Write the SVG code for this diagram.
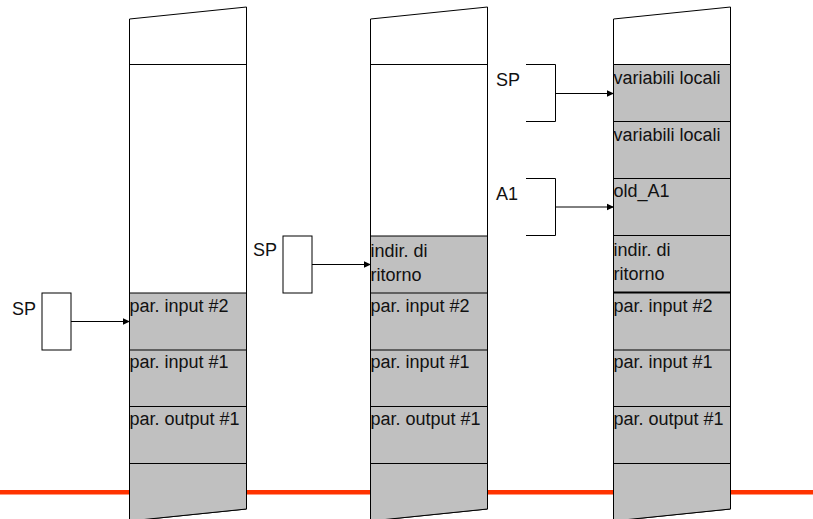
<svg xmlns="http://www.w3.org/2000/svg" width="813" height="519" viewBox="0 0 813 519">
<defs>
<marker id="ah" markerWidth="8" markerHeight="8" refX="7" refY="4" orient="auto" markerUnits="userSpaceOnUse">
<path d="M0,0.5 L7.5,4 L0,7.5 Z" fill="#000"/>
</marker>
</defs>
<style>
text{font-family:"Liberation Sans",Arial,sans-serif;font-size:18px;fill:#111}
.col{fill:#fff;stroke:#000;stroke-width:1}
.g{fill:#c0c0c0;stroke:#000;stroke-width:1}
.ln{stroke:#000;stroke-width:1;fill:none}
.box{fill:#fff;stroke:#000;stroke-width:1}
.cn{stroke:#000;stroke-width:1;fill:none;marker-end:url(#ah)}
</style>
<rect x="0" y="490" width="813" height="4.5" fill="#ff3300"/>

<g id="stack1">
<path class="col" d="M129.5,19 L246.5,7 L246.5,509 L129.5,521 Z"/>
<path class="g" d="M129.5,293 L246.5,293 L246.5,509 L129.5,521 Z"/>
<line class="ln" x1="129.5" y1="64.5" x2="246.5" y2="64.5"/>
<line class="ln" x1="129.5" y1="350" x2="246.5" y2="350"/>
<line class="ln" x1="129.5" y1="406.5" x2="246.5" y2="406.5"/>
<line class="ln" x1="129.5" y1="463.5" x2="246.5" y2="463.5"/>
<text x="129.5" y="312">par. input #2</text>
<text x="129.5" y="368">par. input #1</text>
<text x="129.5" y="425">par. output #1</text>
</g>

<g id="stack2">
<path class="col" d="M370.5,19 L487.5,7 L487.5,509 L370.5,521 Z"/>
<path class="g" d="M370.5,236 L487.5,236 L487.5,509 L370.5,521 Z"/>
<line class="ln" x1="370.5" y1="64.5" x2="487.5" y2="64.5"/>
<line class="ln" x1="370.5" y1="293" x2="487.5" y2="293"/>
<line class="ln" x1="370.5" y1="350" x2="487.5" y2="350"/>
<line class="ln" x1="370.5" y1="406.5" x2="487.5" y2="406.5"/>
<line class="ln" x1="370.5" y1="463.5" x2="487.5" y2="463.5"/>
<text x="370.5" y="257">indir. di</text>
<text x="370.5" y="281">ritorno</text>
<text x="370.5" y="312">par. input #2</text>
<text x="370.5" y="368">par. input #1</text>
<text x="370.5" y="425">par. output #1</text>
</g>

<g id="stack3">
<path class="col" d="M613.5,19 L730.5,7 L730.5,509 L613.5,521 Z"/>
<path class="g" d="M613.5,64.5 L730.5,64.5 L730.5,509 L613.5,521 Z"/>
<line class="ln" x1="613.5" y1="121.5" x2="730.5" y2="121.5"/>
<line class="ln" x1="613.5" y1="178.5" x2="730.5" y2="178.5"/>
<line class="ln" x1="613.5" y1="235.5" x2="730.5" y2="235.5"/>
<line x1="613.5" y1="292.5" x2="730.5" y2="292.5" stroke="#000" stroke-width="2"/>
<line class="ln" x1="613.5" y1="350" x2="730.5" y2="350"/>
<line class="ln" x1="613.5" y1="406.5" x2="730.5" y2="406.5"/>
<line class="ln" x1="613.5" y1="463.5" x2="730.5" y2="463.5"/>
<text x="613.5" y="84">variabili locali</text>
<text x="613.5" y="141">variabili locali</text>
<text x="613.5" y="197">old_A1</text>
<text x="613.5" y="256">indir. di</text>
<text x="613.5" y="280">ritorno</text>
<text x="613.5" y="312">par. input #2</text>
<text x="613.5" y="368">par. input #1</text>
<text x="613.5" y="425">par. output #1</text>
</g>

<g id="sp1">
<rect class="box" x="42" y="293" width="29" height="57"/>
<text x="12" y="315">SP</text>
</g>
<g id="sp2">
<rect class="box" x="283" y="236" width="29" height="57"/>
<text x="253" y="256">SP</text>
</g>
<g id="sp3">
<path class="ln" d="M526,64.5 H555.5 V121.5 H526"/>
<text x="496" y="86">SP</text>
</g>
<g id="a1">
<path class="ln" d="M526,178.5 H555.5 V235.5 H526"/>
<text x="496" y="200">A1</text>
</g>

<g id="connectors">
<line class="cn" x1="71" y1="321.5" x2="129.5" y2="321.5"/>
<line class="cn" x1="312" y1="264.5" x2="370.5" y2="264.5"/>
<line class="cn" x1="555.5" y1="93.5" x2="613.5" y2="93.5"/>
<line class="cn" x1="555.5" y1="207" x2="613.5" y2="207"/>
</g>
</svg>
